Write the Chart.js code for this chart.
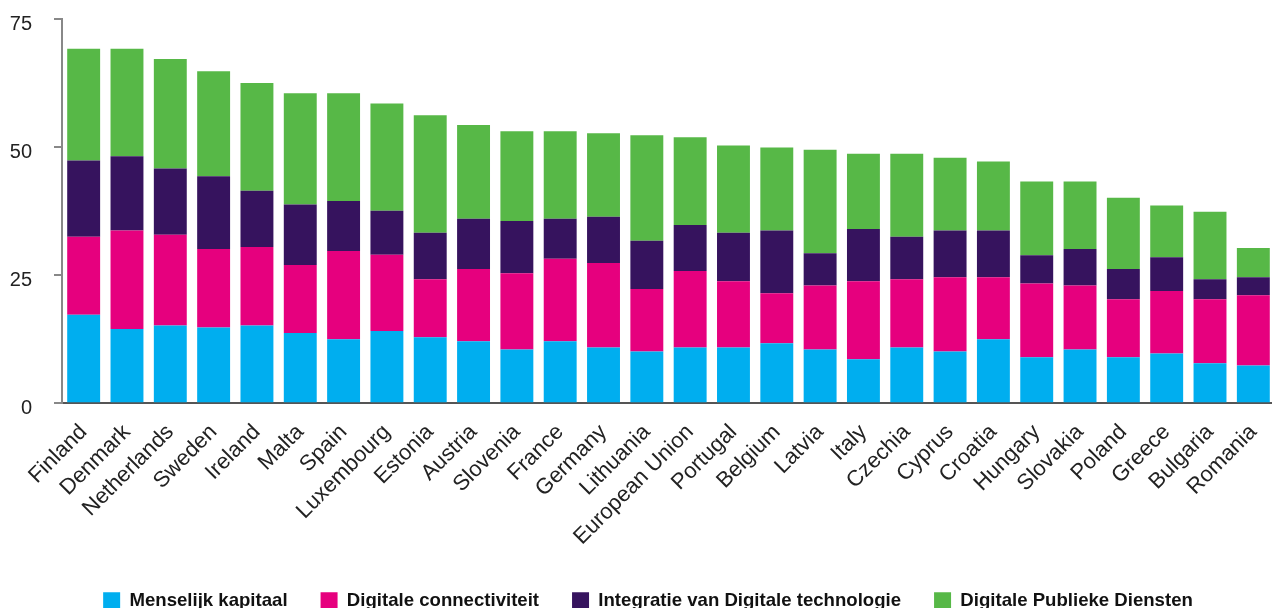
<!DOCTYPE html>
<html>
<head>
<meta charset="utf-8">
<script src="https://cdn.jsdelivr.net/npm/chart.js@4"></script>
<style>
    html, body { margin: 0; padding: 0; background: #fff; overflow: hidden; }
    #wrap { width: 1280px; height: 608px; }
</style>
</head>
<body>
<div id="wrap"><canvas id="dessiChart"></canvas></div>
<script>
// Landen (categorieën)
const landen = ['Finland', 'Denmark', 'Netherlands', 'Sweden', 'Ireland', 'Malta', 'Spain', 'Luxembourg',
    'Estonia', 'Austria', 'Slovenia', 'France', 'Germany', 'Lithuania', 'European Union', 'Portugal',
    'Belgium', 'Latvia', 'Italy', 'Czechia', 'Cyprus', 'Croatia', 'Hungary', 'Slovakia', 'Poland',
    'Greece', 'Bulgaria', 'Romania'];

// Waarden per dimensie
const menselijkKapitaal = [17.3, 14.5, 15.2, 14.8, 15.2, 13.7, 12.5, 14.1, 12.9, 12.1, 10.5, 12.1, 10.9, 10.1,
    10.9, 10.9, 11.7, 10.5, 8.6, 10.9, 10.1, 12.5, 9.0, 10.5, 9.0, 9.7, 7.8, 7.4];
const connectiviteit = [15.2, 19.2, 17.7, 15.3, 15.3, 13.3, 17.2, 14.9, 11.3, 14.1, 14.9, 16.1, 16.5, 12.2,
    14.9, 12.9, 9.8, 12.5, 15.2, 13.3, 14.5, 12.1, 14.4, 12.5, 11.3, 12.2, 12.5, 13.7];
const integratie = [14.9, 14.5, 12.9, 14.2, 11.0, 11.8, 9.8, 8.6, 9.1, 9.8, 10.2, 7.8, 9.0, 9.4,
    9.0, 9.5, 12.2, 6.3, 10.2, 8.3, 9.1, 9.1, 5.5, 7.1, 5.9, 6.6, 3.9, 3.5];
const publiekeDiensten = [21.8, 21.0, 21.4, 20.5, 21.0, 21.7, 21.0, 20.9, 22.9, 18.3, 17.5, 17.1, 16.3, 20.6,
    17.1, 17.0, 16.2, 20.2, 14.7, 16.2, 14.2, 13.5, 14.4, 13.2, 13.9, 10.1, 13.2, 5.7];

const yTicks = [0, 25, 50, 75];

const ctx = document.getElementById('dessiChart').getContext('2d');

const reeks = (label, data, kleur) => ({
    label: label,
    data: data,
    backgroundColor: kleur,
    borderWidth: 0,
    barPercentage: 0.76,
    categoryPercentage: 1.0
});

// legenda iets naar rechts schuiven
const legendaVerschuiving = {
    id: 'legendaVerschuiving',
    afterLayout(chart) {
        const lg = chart.legend;
        lg.left += 8; lg.right += 8;
    }
};

const chart = new Chart(ctx, {
    type: 'bar',
    data: {
        labels: landen,
        datasets: [
            reeks('Menselijk kapitaal', menselijkKapitaal, '#00aeef'),
            reeks('Digitale connectiviteit', connectiviteit, '#e6007e'),
            reeks('Integratie van Digitale technologie', integratie, '#36135e'),
            reeks('Digitale Publieke Diensten', publiekeDiensten, '#57b847')
        ]
    },
    plugins: [legendaVerschuiving],
    options: {
        responsive: true,
        maintainAspectRatio: false,
        animation: false,
        layout: {
            padding: { top: 19, left: 0, right: 0, bottom: -12 }
        },
        plugins: {
            tooltip: { enabled: false },
            legend: {
                position: 'bottom',
                labels: {
                    boxWidth: 17,
                    boxHeight: 17,
                    padding: 33,
                    color: '#111',
                    font: { family: "'Liberation Sans', Arial", size: 18.6, weight: 'bold' }
                }
            }
        },
        scales: {
            x: {
                stacked: true,
                grid: { display: false },
                border: { display: true, color: '#555', width: 2 },
                ticks: {
                    autoSkip: false,
                    maxRotation: 45,
                    minRotation: 45,
                    padding: 8,
                    color: '#222',
                    font: { family: "'Liberation Sans', Arial", size: 22 }
                }
            },
            y: {
                stacked: true,
                min: 0,
                max: 75,
                afterFit: (scale) => {
                    scale.width = 62;
                    scale.paddingTop = 0;
                    scale.paddingBottom = 0;
                },
                afterBuildTicks: (scale) => { scale.ticks = yTicks.map(v => ({ value: v })); },
                grid: { drawOnChartArea: false, drawTicks: true, tickLength: 8, color: '#888', lineWidth: 2 },
                border: { display: true, color: '#888', width: 2 },
                ticks: {
                    padding: 22,
                    labelOffset: 5,
                    color: '#222',
                    font: { family: "'Liberation Sans', Arial", size: 20 }
                }
            }
        }
    }
});
</script>
</body>
</html>
